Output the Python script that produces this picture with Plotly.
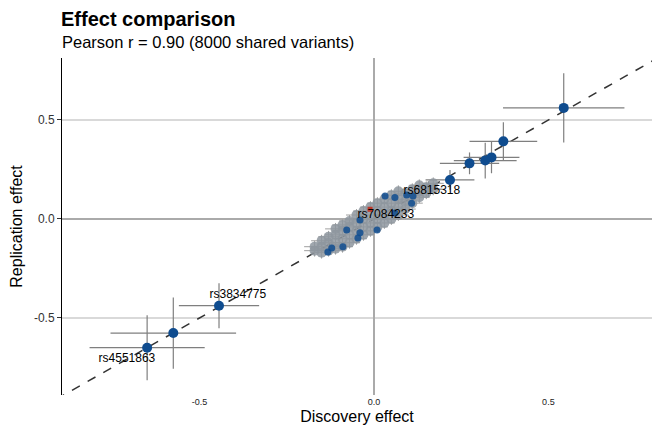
import plotly.graph_objects as go

# background variants (shared, not significant) - read off the cloud
bg_x = [-0.17, -0.17,
        -0.15, -0.15, -0.15,
        -0.13, -0.13, -0.13,
        -0.11, -0.11, -0.11, -0.11,
        -0.09, -0.09, -0.09, -0.09,
        -0.07, -0.07, -0.07, -0.07,
        -0.05, -0.05, -0.05, -0.05,
        -0.03, -0.03, -0.03, -0.03,
        -0.01, -0.01, -0.01, -0.01,
        0.01, 0.01, 0.01, 0.01,
        0.03, 0.03, 0.03, 0.03,
        0.05, 0.05, 0.05, 0.05,
        0.07, 0.07, 0.07, 0.07,
        0.09, 0.09, 0.09,
        0.11, 0.11, 0.11,
        0.13, 0.13, 0.13,
        0.15, 0.15,
        0.17, 0.17]
bg_y = [-0.16, -0.14,
        -0.17, -0.14, -0.11,
        -0.16, -0.12, -0.09,
        -0.15, -0.12, -0.08, -0.05,
        -0.14, -0.10, -0.06, -0.03,
        -0.12, -0.08, -0.04, -0.01,
        -0.10, -0.06, -0.02, 0.02,
        -0.08, -0.04, 0.00, 0.04,
        -0.06, -0.02, 0.02, 0.06,
        -0.04, 0.00, 0.04, 0.08,
        -0.02, 0.02, 0.06, 0.10,
        0.00, 0.04, 0.08, 0.12,
        0.02, 0.06, 0.10, 0.14,
        0.05, 0.09, 0.13,
        0.08, 0.12, 0.15,
        0.11, 0.14, 0.17,
        0.13, 0.16,
        0.15, 0.18]
bg_err = [0.03] * len(bg_x)

# significant variants inside the cloud
sig_in_x = [0.032, 0.06, 0.094, 0.108, 0.112, 0.06, -0.04, -0.078, -0.089, -0.046,
            -0.121, -0.04, 0.009, -0.132]
sig_in_y = [0.116, 0.108, 0.121, 0.08, 0.116, 0.03, -0.07, -0.056, -0.14, -0.096,
            -0.146, -0.005, -0.056, -0.167]

# significant variants with visible uncertainty
sig_x = [0.544, 0.371, 0.337, 0.319, 0.274, 0.218, 0.156, -0.444, -0.575, -0.65]
sig_y = [0.561, 0.392, 0.311, 0.295, 0.281, 0.197, 0.150, -0.438, -0.576, -0.65]
sig_xerr = [0.174, 0.097, 0.08, 0.09, 0.085, 0.07, 0.04, 0.115, 0.18, 0.165]
sig_yerr = [0.175, 0.097, 0.08, 0.09, 0.055, 0.05, 0.04, 0.114, 0.18, 0.164]

lead_x = [-0.011]
lead_y = [0.049]

label_text = ["rs6815318", "rs7084233", "rs3834775", "rs4551863"]
label_x = [0.166, 0.034, -0.39, -0.708]
label_y = [0.141, 0.020, -0.384, -0.707]

identity = [-1.0, 1.0]

blue = "#0f4c8f"
grey = "#8e979f"

fig = go.Figure()

fig.add_trace(go.Scatter(
    x=identity, y=identity, mode="lines",
    line=dict(color="#333333", width=1.5, dash="dash"),
    hoverinfo="skip"
))

fig.add_trace(go.Scatter(
    x=sig_x, y=sig_y, mode="markers",
    marker=dict(color=blue, size=10),
    error_x=dict(type="data", array=sig_xerr, color="#7f7f7f", thickness=1.2, width=0),
    error_y=dict(type="data", array=sig_yerr, color="#7f7f7f", thickness=1.2, width=0)
))

fig.add_trace(go.Scatter(
    x=bg_x, y=bg_y, mode="markers",
    marker=dict(color=grey, size=10, opacity=0.85),
    error_x=dict(type="data", array=bg_err, color="#a0a0a0", thickness=1, width=0),
    error_y=dict(type="data", array=bg_err, color="#a0a0a0", thickness=1, width=0)
))

fig.add_trace(go.Scatter(
    x=sig_in_x, y=sig_in_y, mode="markers",
    marker=dict(color=blue, size=7, opacity=0.85)
))

fig.add_trace(go.Scatter(
    x=lead_x, y=lead_y, mode="markers",
    marker=dict(color="#c0392b", size=5, symbol="square")
))

fig.add_trace(go.Scatter(
    x=label_x, y=label_y, mode="text", text=label_text,
    textfont=dict(family="Liberation Sans", size=12, color="#000000")
))

# page body adds an 8px offset, so margins are shifted to compensate
fig.update_layout(
    width=660, height=440,
    margin=dict(l=54, r=16, t=50, b=53),
    paper_bgcolor="white", plot_bgcolor="white",
    showlegend=False,
    font=dict(family="Liberation Sans", color="#000000"),
    xaxis=dict(
        range=[-0.894, 0.797], tickvals=[-0.5, 0, 0.5], ticktext=["-0.5", "0.0", "0.5"],
        showgrid=False, zeroline=True, zerolinecolor="#aaaaaa", zerolinewidth=1.5,
        showline=False, ticks="", tickfont=dict(size=9, color="#222222"),
        automargin=False,
        title=dict(text="Discovery effect", font=dict(size=16), standoff=4)
    ),
    yaxis=dict(
        range=[-0.889, 0.813], tickvals=[-0.5, 0, 0.5], ticktext=["-0.5", "0.0", "0.5"],
        showgrid=True, gridcolor="#d9d9d9", gridwidth=1.5,
        zeroline=True, zerolinecolor="#aaaaaa", zerolinewidth=1.5,
        showline=True, linecolor="#000000", linewidth=1,
        ticks="outside", ticklen=4, tickcolor="#333333",
        tickfont=dict(size=12, color="#333333"),
        automargin=False,
        title=dict(text="Replication effect", font=dict(size=16), standoff=8)
    ),
    annotations=[
        dict(text="<b>Effect comparison</b>", xref="paper", yref="paper",
             x=0, y=1, xanchor="left", yanchor="bottom", yshift=27, xshift=-2,
             borderpad=0, showarrow=False, font=dict(size=20)),
        dict(text="Pearson r = 0.90 (8000 shared variants)", xref="paper", yref="paper",
             x=0, y=1, xanchor="left", yanchor="bottom", yshift=5, xshift=-2,
             showarrow=False, font=dict(size=16.5)),
    ]
)

fig.write_html("out.html")
